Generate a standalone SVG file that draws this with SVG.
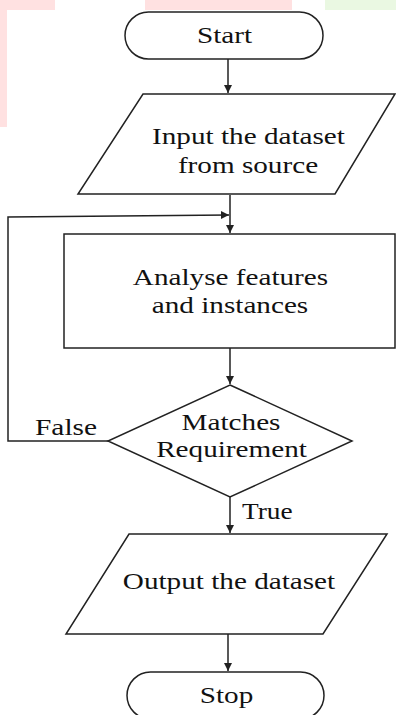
<svg xmlns="http://www.w3.org/2000/svg" width="396" height="715" viewBox="0 0 396 715">
<style>
.shape{fill:#fff;stroke:#222;stroke-width:1.5}
.conn{fill:none;stroke:#222;stroke-width:1.5}
text{font-family:"Liberation Serif","Times New Roman",serif;font-size:23px;fill:#111}
.c{text-anchor:middle}
</style>
<defs>
<marker id="arr" markerUnits="userSpaceOnUse" viewBox="0 0 10 10" markerWidth="8" markerHeight="9" refX="10" refY="5" orient="auto">
<path d="M0,0 L10,5 L0,10 z" fill="#222"/>
</marker>
</defs>
<rect width="396" height="715" fill="#fff"/>
<g id="watermark">
<rect x="0" y="0" width="55" height="10" fill="#ffe1e1"/>
<rect x="0" y="0" width="7" height="127" fill="#ffe1e1"/>
<rect x="145" y="0" width="147" height="10" fill="#ffe1e1"/>
<rect x="325" y="0" width="71" height="10" fill="#eaf8e2"/>
</g>
<g id="connectors">
<path class="conn" d="M228,59 L228,93" marker-end="url(#arr)"/>
<path class="conn" d="M230,195 L230,233" marker-end="url(#arr)"/>
<path class="conn" d="M230,348 L230,384" marker-end="url(#arr)"/>
<path class="conn" d="M108,441 L8,441 L8,217 L229,215" marker-end="url(#arr)"/>
<path class="conn" d="M230,497 L230,533" marker-end="url(#arr)"/>
<path class="conn" d="M228,634 L228,671" marker-end="url(#arr)"/>
<text transform="translate(35,435) scale(1.28,1)">False</text>
<text transform="translate(242,519) scale(1.19,1)">True</text>
</g>
<g id="start">
<rect class="shape" x="125" y="12" width="198" height="47" rx="23.5"/>
<text class="c" transform="translate(224.5,43) scale(1.27,1)">Start</text>
</g>
<g id="input">
<polygon class="shape" points="143,94 395,94 335,194 78,194"/>
<text class="c" transform="translate(248.5,144) scale(1.27,1)">Input the dataset</text>
<text class="c" transform="translate(248,173) scale(1.27,1)">from source</text>
</g>
<g id="analyse">
<rect class="shape" x="64" y="234" width="331" height="114"/>
<text class="c" transform="translate(230.5,285) scale(1.27,1)">Analyse features</text>
<text class="c" transform="translate(230,313) scale(1.27,1)">and instances</text>
</g>
<g id="decision">
<polygon class="shape" points="230,385 352,441 230,497 108,441"/>
<text class="c" transform="translate(231,430) scale(1.27,1)">Matches</text>
<text class="c" transform="translate(231.5,457) scale(1.27,1)">Requirement</text>
</g>
<g id="output">
<polygon class="shape" points="129,534 387,534 323,634 66,634"/>
<text class="c" transform="translate(229,589) scale(1.27,1)">Output the dataset</text>
</g>
<g id="stop">
<rect class="shape" x="127" y="672" width="197" height="47" rx="23.5"/>
<text class="c" transform="translate(226.5,703) scale(1.27,1)">Stop</text>
</g>
</svg>
